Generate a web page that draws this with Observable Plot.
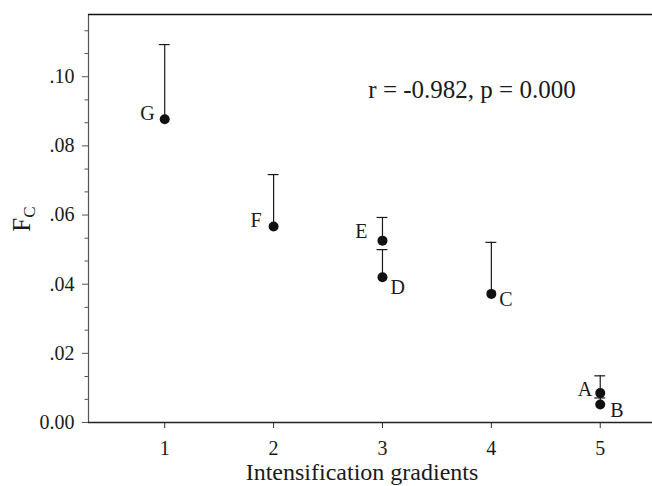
<!DOCTYPE html>
<html><head><meta charset="utf-8">
<script src="https://cdn.jsdelivr.net/npm/d3@7"></script>
<script src="https://cdn.jsdelivr.net/npm/@observablehq/plot@0.6"></script>
<style>body{margin:0;background:#fff}</style>
</head><body><div id="chart"></div>
<script>
const labels = ["A","B","C","D","E","F","G"];
const gradient = [5,5,4,3,3,2,1];
const fc = [0.0085,0.0052,0.0372,0.0420,0.0526,0.0567,0.0877];
const upper = [0.0135,0.0071,0.0521,0.0500,0.0593,0.0717,0.1093];
const xTicks = [1,2,3,4,5];
const yTicks = [0,0.02,0.04,0.06,0.08,0.10];
const yTickLabels = ["0.00",".02",".04",".06",".08",".10"];
const yMinorTicks = [0.0067,0.0133,0.0267,0.0333,0.0467,0.0533,0.0667,0.0733,0.0867,0.0933,0.1067,0.1133];
const annotation = ["r = -0.982, p = 0.000"];
const annotationX = [2.87];
const annotationY = [0.0962];
const xTitle = "Intensification gradients";
const yTitleMain = "F";
const yTitleSub = "C";

const data = labels.map((l,i)=>({label:l, g:gradient[i], fc:fc[i], up:upper[i]}));
// label placement (screen offsets)
const place = {
  A:{dx:-8, dy:-4, anchor:"end"},
  B:{dx:10, dy:6, anchor:"start"},
  C:{dx:8, dy:6, anchor:"start"},
  D:{dx:8, dy:10, anchor:"start"},
  E:{dx:-15, dy:-9, anchor:"end"},
  F:{dx:-12, dy:-6, anchor:"end"},
  G:{dx:-10, dy:-6, anchor:"end"}
};
const font = "Liberation Serif, Times New Roman, serif";
const ink = "#1a1a1a";
const capHalf = 0.05;

const labelMarks = labels.map(l => Plot.text(data.filter(d=>d.label===l), {
  x:"g", y:"fc", text:"label", dx:place[l].dx, dy:place[l].dy,
  textAnchor:place[l].anchor, fontSize:20, fill:ink
}));

const plot = Plot.plot({
  width:652, height:486,
  marginLeft:88, marginRight:0, marginTop:14, marginBottom:64,
  style:{fontFamily:font, background:"#fff", color:ink},
  x:{domain:[0.3,5.48]},
  y:{domain:[0,0.118]},
  marks:[
    Plot.axisY(yTicks, {tickSize:6, tickPadding:8, tickFormat:(d,i)=>yTickLabels[i], fontSize:20, label:null, stroke:"#555", fill:ink}),
    Plot.axisY(yMinorTicks, {tickSize:3.5, tickFormat:()=>"", label:null, stroke:"#555"}),
    Plot.axisX(xTicks, {tickSize:6, tickPadding:12, fontSize:20, label:null, stroke:"#333", fill:ink}),
    Plot.ruleX([0.3], {stroke:"#555", strokeWidth:1.2}),
    Plot.ruleY([0], {stroke:"#222", strokeWidth:1.3}),
    Plot.ruleY([0.118], {stroke:"#111", strokeWidth:1.3}),
    Plot.ruleX(data, {x:"g", y1:"fc", y2:"up", stroke:ink, strokeWidth:1.2}),
    Plot.ruleY(data, {y:"up", x1:d=>d.g-capHalf, x2:d=>d.g+capHalf, stroke:ink, strokeWidth:1.2}),
    Plot.dot(data, {x:"g", y:"fc", r:5, fill:"#111", stroke:"none"}),
    ...labelMarks,
    Plot.text(annotation, {x:(d,i)=>annotationX[i], y:(d,i)=>annotationY[i], text:d=>d, textAnchor:"start", fontSize:25, fill:ink})
  ]
});
document.getElementById("chart").appendChild(plot);

const svg = d3.select(plot);
svg.append("text")
  .attr("x", 362).attr("y", 480)
  .attr("text-anchor","middle")
  .attr("font-family", font).attr("font-size", 24).attr("fill", ink)
  .text(xTitle);
const yt = svg.append("text")
  .attr("transform","translate(30,219) rotate(-90)")
  .attr("text-anchor","middle")
  .attr("font-family", font).attr("font-size", 25).attr("fill", ink);
yt.append("tspan").text(yTitleMain);
yt.append("tspan").attr("font-size", 17).attr("dy", 5).text(yTitleSub);
</script>
</body></html>
